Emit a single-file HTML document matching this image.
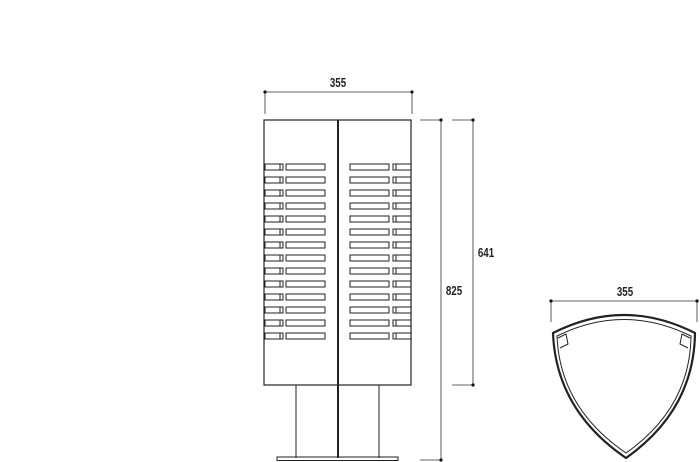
<!DOCTYPE html>
<html><head><style>
html,body{margin:0;padding:0;background:#fff;}
svg{display:block}
text{font-family:"Liberation Sans Narrow","Liberation Sans",sans-serif;font-size:13px;font-weight:bold;fill:#222;}
</style></head><body>
<svg width="700" height="462" viewBox="0 0 700 462" xmlns="http://www.w3.org/2000/svg">
<g stroke="#333" stroke-width="0.8" fill="none">
  <line x1="265" y1="92" x2="412" y2="92"/>
  <line x1="265" y1="92" x2="265" y2="114"/>
  <line x1="412" y1="92" x2="412" y2="114"/>
  <line x1="441" y1="120" x2="441" y2="460"/>
  <line x1="420" y1="120" x2="441" y2="120"/>
  <line x1="420" y1="460" x2="441" y2="460"/>
  <line x1="473" y1="120" x2="473" y2="385"/>
  <line x1="452" y1="120" x2="473" y2="120"/>
  <line x1="452" y1="385" x2="473" y2="385"/>
  <line x1="551" y1="301" x2="697" y2="301"/>
  <line x1="551" y1="301" x2="551" y2="322"/>
  <line x1="697" y1="301" x2="697" y2="322"/>
</g>
<g fill="#111">
  <circle cx="265" cy="92" r="1.6"/><circle cx="412" cy="92" r="1.6"/>
  <circle cx="441" cy="120" r="1.6"/><circle cx="441" cy="460" r="1.6"/>
  <circle cx="473" cy="120" r="1.6"/><circle cx="473" cy="385" r="1.6"/>
  <circle cx="551" cy="301" r="1.6"/><circle cx="697" cy="301" r="1.6"/>
</g>
<text transform="translate(338 87) scale(0.75 1)" text-anchor="middle">355</text>
<text transform="translate(454 295) scale(0.75 1)" text-anchor="middle">825</text>
<text transform="translate(486 257) scale(0.75 1)" text-anchor="middle">641</text>
<text transform="translate(625 296) scale(0.75 1)" text-anchor="middle">355</text>
<g stroke="#222" fill="none">
  <rect x="264" y="120" width="147" height="265" stroke-width="1.2"/>
  <line x1="338" y1="120" x2="338" y2="458" stroke-width="2"/>
  <line x1="296" y1="385" x2="296" y2="458" stroke-width="1"/>
  <line x1="379" y1="385" x2="379" y2="458" stroke-width="1"/>
  <rect x="277" y="457" width="121" height="3.5" stroke-width="1"/>
</g>
<g stroke="#222" stroke-width="1" fill="none">
<g id="row">
  <rect x="265" y="164" width="18" height="6"/><line x1="280" y1="164" x2="280" y2="170"/>
  <rect x="286" y="164" width="39" height="6"/>
  <rect x="350" y="164" width="39" height="6"/>
  <rect x="393" y="164" width="18" height="6"/><line x1="396" y1="164" x2="396" y2="170"/>
</g>
<use href="#row" y="13"/><use href="#row" y="26"/><use href="#row" y="39"/>
<use href="#row" y="52"/><use href="#row" y="65"/><use href="#row" y="78"/>
<use href="#row" y="91"/><use href="#row" y="104"/><use href="#row" y="117"/>
<use href="#row" y="130"/><use href="#row" y="143"/><use href="#row" y="156"/>
<use href="#row" y="169"/>
</g>
<g stroke="#222" fill="none">
  <path d="M553 333 Q624 297 695 333 Q694 410 626 458 Q556 410 553 333 Z" stroke-width="2.2"/>
  <path d="M557 336 Q624 303 691 336 Q690 408 626 453 Q560 408 557 336 Z" stroke-width="1"/>
  <path d="M558 338 L566 334 L568 344 L560 348" stroke-width="1"/>
  <path d="M690 338 L682 334 L680 344 L688 348" stroke-width="1"/>
</g>
</svg>
</body></html>
